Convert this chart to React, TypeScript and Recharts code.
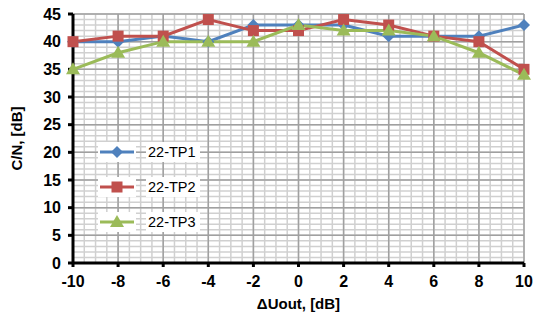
import React from "react";
import { LineChart, Line, XAxis, YAxis, CartesianGrid } from "recharts";

const xValues = [-10, -8, -6, -4, -2, 0, 2, 4, 6, 8, 10];
const tp1 = [40, 40, 41, 40, 43, 43, 43, 41, 41, 41, 43];
const tp2 = [40, 41, 41, 44, 42, 42, 44, 43, 41, 40, 35];
const tp3 = [35, 38, 40, 40, 40, 43, 42, 42, 41, 38, 34];

const xTicks = [-10, -8, -6, -4, -2, 0, 2, 4, 6, 8, 10];
const yTicks = [0, 5, 10, 15, 20, 25, 30, 35, 40, 45];
const xMinor = Array.from({ length: 41 }, (_, i) => -10 + i * 0.5);
const yMinor = Array.from({ length: 46 }, (_, i) => i);

const data = xValues.map((x, i) => ({ x, tp1: tp1[i], tp2: tp2[i], tp3: tp3[i] }));

const BLUE = "#4F81BD";
const RED = "#C0504D";
const GREEN = "#9BBB59";
const FONT = "Liberation Sans, Arial";

const Diamond = ({ cx, cy, fill }: any) =>
  cx == null ? null : <path d={`M${cx},${cy - 6}L${cx + 6},${cy}L${cx},${cy + 6}L${cx - 6},${cy}Z`} fill={fill} />;
const Square = ({ cx, cy, fill }: any) =>
  cx == null ? null : <rect x={cx - 5.5} y={cy - 5.5} width={11} height={11} fill={fill} />;
const Triangle = ({ cx, cy, fill }: any) =>
  cx == null ? null : <path d={`M${cx},${cy - 7}L${cx + 7},${cy + 5}L${cx - 7},${cy + 5}Z`} fill={fill} />;

const series = [
  { key: "tp1", name: "22-TP1", color: BLUE, Dot: Diamond },
  { key: "tp2", name: "22-TP2", color: RED, Dot: Square },
  { key: "tp3", name: "22-TP3", color: GREEN, Dot: Triangle },
];

const LegendBox = () => (
  <svg width={140} height={100} style={{ position: "absolute", left: 98, top: 138 }}>
    {series.map((s, i) => {
      const y = 14 + i * 35;
      const D = s.Dot;
      return (
        <g key={s.key}>
          <rect x={0} y={y - 10} width={38} height={20} fill="#fff" />
          <line x1={2} x2={36} y1={y} y2={y} stroke={s.color} strokeWidth={3} />
          <D cx={19} cy={y} fill={s.color} />
          <rect x={48} y={y - 10} width={54} height={20} fill="#fff" />
          <text x={50} y={y + 5} fontSize={14.5} fill="#000" fontFamily={FONT}>
            {s.name}
          </text>
        </g>
      );
    })}
  </svg>
);

export default function App() {
  return (
    <div style={{ position: "absolute", left: 0, top: 0, width: 534, height: 329, background: "#fff" }}>
      <LineChart width={534} height={329} data={data} margin={{ top: 14, right: 10, bottom: 36, left: 25 }}>
        <CartesianGrid stroke="#d0d0d0" strokeWidth={1.5} verticalValues={xMinor} horizontalValues={yMinor} />
        <CartesianGrid stroke="#a0a0a0" strokeWidth={1.5} verticalValues={xTicks} horizontalValues={yTicks} />
        <XAxis
          dataKey="x"
          type="number"
          domain={[-10, 10]}
          ticks={xTicks}
          interval={0}
          axisLine={{ stroke: "#000", strokeWidth: 3 }}
          tickLine={{ stroke: "#000", strokeWidth: 3 }}
          tickSize={4}
          tickMargin={9}
          height={30}
          tick={{ fill: "#000", fontSize: 16, fontWeight: "bold", fontFamily: FONT }}
          label={{
            value: "ΔUout, [dB]",
            position: "insideBottom",
            offset: -16,
            fill: "#000",
            fontSize: 15,
            fontWeight: "bold",
            fontFamily: FONT,
          }}
        />
        <YAxis
          type="number"
          domain={[0, 45]}
          ticks={yTicks}
          interval={0}
          width={48}
          axisLine={{ stroke: "#000", strokeWidth: 3 }}
          tickLine={{ stroke: "#000", strokeWidth: 3 }}
          tickSize={5}
          tickMargin={7}
          tick={{ fill: "#000", fontSize: 16, fontWeight: "bold", fontFamily: FONT }}
          label={{
            value: "C/N, [dB]",
            angle: -90,
            position: "insideLeft",
            offset: -8,
            style: { textAnchor: "middle" },
            fill: "#000",
            fontSize: 15,
            fontWeight: "bold",
            fontFamily: FONT,
          }}
        />
        {series.map((s) => (
          <Line
            key={s.key}
            dataKey={s.key}
            name={s.name}
            stroke={s.color}
            strokeWidth={3}
            isAnimationActive={false}
            dot={(p: any) => <s.Dot key={p.index} cx={p.cx} cy={p.cy} fill={s.color} />}
            activeDot={false}
          />
        ))}
      </LineChart>
      <LegendBox />
    </div>
  );
}
